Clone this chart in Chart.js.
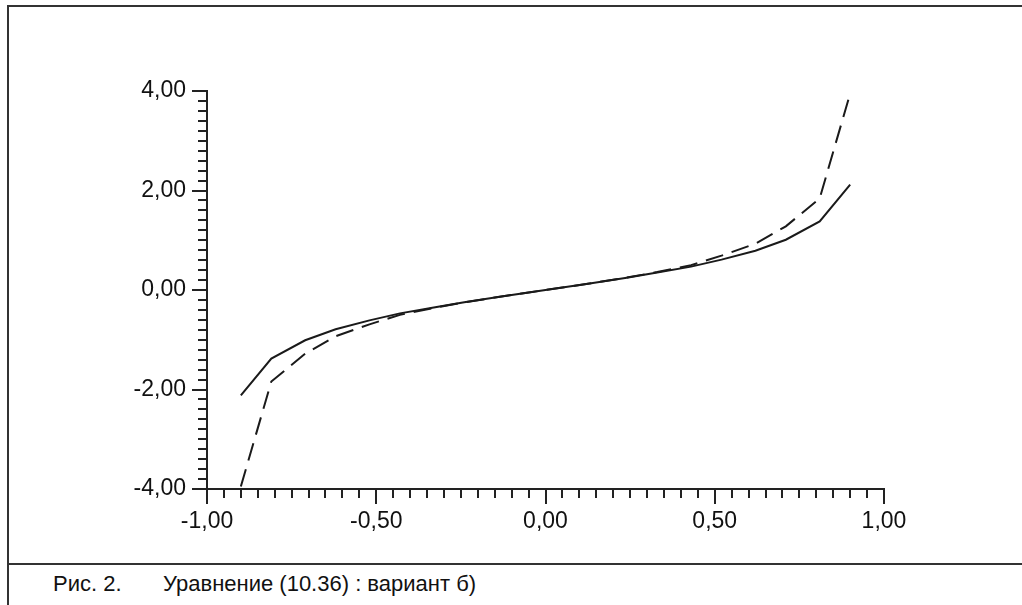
<!DOCTYPE html>
<html>
<head>
<meta charset="utf-8">
<script src="https://cdn.jsdelivr.net/npm/chart.js@4.4.1/dist/chart.umd.min.js"></script>
<style>
  body { margin: 0; background: #fff; }
  #wrap { position: relative; width: 1022px; height: 605px; overflow: hidden; font-family: "Liberation Sans", Arial, sans-serif; }
  #myChart { position: absolute; left: 0; top: 0; }
  .frame-top { position: absolute; left: 7px; top: 5px; width: 1015px; height: 0; border-top: 2px solid #333; }
  .frame-left { position: absolute; left: 7px; top: 5px; width: 0; height: 600px; border-left: 2px solid #333; }
  .frame-mid { position: absolute; left: 7px; top: 563px; width: 1015px; height: 0; border-top: 2px solid #333; }
  .caption { position: absolute; top: 571px; font-size: 22px; color: #111; white-space: pre; }
</style>
</head>
<body>
<div id="wrap">
  <canvas id="myChart" width="1022" height="560"></canvas>
  <div class="frame-top"></div>
  <div class="frame-left"></div>
  <div class="frame-mid"></div>
  <div class="caption" style="left:53px">Рис. 2.</div>
  <div class="caption" style="left:163px">Уравнение (10.36) : вариант б)</div>
</div>
<script>
// values
const xValues = [-0.90, -0.81, -0.71, -0.62, -0.52, -0.43, -0.33, -0.24, -0.14, -0.05,
                  0.05,  0.14,  0.24,  0.33,  0.43,  0.52,  0.62,  0.71,  0.81,  0.90];
const solidValues = [-2.12, -1.38, -1.01, -0.79, -0.61, -0.47, -0.35, -0.245, -0.14, -0.05,
                      0.05,  0.14,  0.245, 0.35,  0.47,  0.61,  0.79,  1.01,  1.38,  2.12];
const dashedValues = [-3.95, -1.84, -1.28, -0.93, -0.69, -0.50, -0.36, -0.25, -0.14, -0.05,
                       0.05,  0.14,  0.25,  0.36,  0.50,  0.69,  0.93,  1.28,  1.84,  3.95];
const xTickLabels = [-1, -0.5, 0, 0.5, 1];
const yTickLabels = [-4, -2, 0, 2, 4];

const FONT = '"Liberation Sans", Arial, sans-serif';
const fmt = v => v.toFixed(2).replace('.', ',');
const toPoints = ys => xValues.map( (x, i) => ({ x: x, y: ys[i] }) );

// draws major and minor ticks on both axes
const tickPlugin = {
    id: 'ticks',
    afterDraw(chart) {
        const ctx = chart.ctx;
        const xs = chart.scales.x;
        const ys = chart.scales.y;
        ctx.save();
        ctx.strokeStyle = '#222';
        ctx.lineWidth = 2;
        for ( let i = 0; i <= 40; i++ ) {
            const v = -1 + i * 0.05;
            const px = Math.round(xs.getPixelForValue(v));
            const len = (i % 10 === 0) ? 15 : 9;
            ctx.beginPath();
            ctx.moveTo(px, xs.top);
            ctx.lineTo(px, xs.top + len);
            ctx.stroke();
        }
        for ( let i = 0; i <= 40; i++ ) {
            const v = -4 + i * 0.2;
            const py = Math.round(ys.getPixelForValue(v));
            const len = (i % 10 === 0) ? 15 : 9;
            ctx.beginPath();
            ctx.moveTo(ys.right, py);
            ctx.lineTo(ys.right - len, py);
            ctx.stroke();
        }
        ctx.restore();
    }
};

const ctx = document.getElementById('myChart');

new Chart(ctx, {
    type: 'scatter',
    data: {
        datasets: [{
            data: toPoints(solidValues),
            showLine: true,
            borderColor: '#1a1a1a',
            borderWidth: 2,
            pointRadius: 0,
            tension: 0
        }, {
            data: toPoints(dashedValues),
            showLine: true,
            borderColor: '#1a1a1a',
            borderWidth: 2,
            borderDash: [18, 9],
            pointRadius: 0,
            tension: 0
        }]
    },
    options: {
        responsive: false,
        animation: false,
        layout: {
            padding: { left: 0, right: 138, top: 91, bottom: 0 }
        },
        plugins: {
            legend: { display: false },
            tooltip: { enabled: false }
        },
        scales: {
            x: {
                type: 'linear',
                min: -1,
                max: 1,
                afterBuildTicks: scale => {
                    scale.ticks = xTickLabels.map( v => ({ value: v }) );
                },
                afterFit: scale => { scale.height = 71; },
                grid: { display: false, drawTicks: false },
                border: { display: true, color: '#222', width: 2 },
                ticks: {
                    color: '#111',
                    padding: 19,
                    autoSkip: false,
                    maxRotation: 0,
                    font: { family: FONT, size: 23 },
                    callback: v => fmt(v)
                }
            },
            y: {
                type: 'linear',
                min: -4,
                max: 4,
                afterBuildTicks: scale => {
                    scale.ticks = yTickLabels.map( v => ({ value: v }) );
                },
                afterFit: scale => { scale.width = 207; },
                grid: { display: false, drawTicks: false },
                border: { display: true, color: '#222', width: 2 },
                ticks: {
                    color: '#111',
                    padding: 21,
                    font: { family: FONT, size: 23 },
                    callback: v => fmt(v)
                }
            }
        }
    },
    plugins: [ tickPlugin ]
});
</script>
</body>
</html>
